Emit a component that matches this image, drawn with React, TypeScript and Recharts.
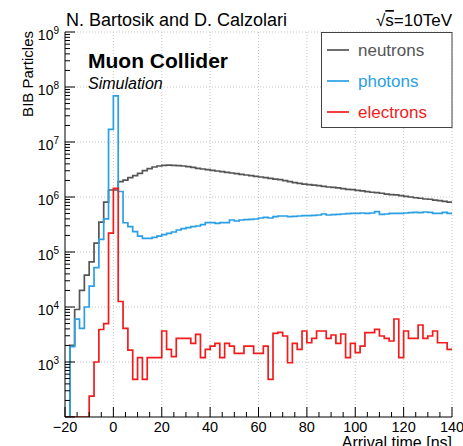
import React from 'react';
import { LineChart, Line, XAxis, YAxis, ReferenceLine } from 'recharts';

// Histogram binning (ns)
const BIN_START = -20;
const BIN_WIDTH = 2;

// Counts per 2 ns bin, from -20 to 140 ns (100 = empty bin, drawn on the axis)
const NEUTRONS = [
  100, 2000, 9000, 20000, 38000, 66000, 145000, 350000, 810000, 1340000,
  1340000, 1900000, 2030000, 2250000, 2440000, 2690000, 3010000, 3270000, 3510000, 3660000,
  3770000, 3800000, 3770000, 3710000, 3660000, 3560000, 3460000, 3320000, 3230000, 3140000,
  3050000, 2970000, 2890000, 2810000, 2730000, 2660000, 2580000, 2510000, 2440000, 2380000,
  2310000, 2250000, 2180000, 2120000, 2070000, 1980000, 1900000, 1820000, 1770000, 1720000,
  1680000, 1650000, 1610000, 1560000, 1520000, 1500000, 1460000, 1420000, 1380000, 1360000,
  1320000, 1290000, 1250000, 1220000, 1200000, 1170000, 1130000, 1100000, 1090000, 1060000,
  1030000, 1000000, 970000, 950000, 920000, 910000, 880000, 860000, 830000, 810000,
];

const PHOTONS = [
  100, 1900, 6000, 4100, 10000, 24000, 52000, 170000, 400000, 17000000,
  69000000, 1260000, 340000, 290000, 234000, 195000, 177000, 177000, 185000, 195000,
  207000, 218000, 231000, 251000, 266000, 277000, 289000, 297000, 314000, 341000,
  341000, 332000, 341000, 341000, 382000, 366000, 382000, 387000, 393000, 398000,
  415000, 427000, 415000, 439000, 451000, 451000, 439000, 445000, 451000, 458000,
  458000, 465000, 471000, 491000, 471000, 478000, 484000, 491000, 498000, 505000,
  505000, 512000, 505000, 512000, 541000, 484000, 491000, 505000, 505000, 505000,
  512000, 519000, 526000, 519000, 534000, 526000, 505000, 505000, 526000, 505000,
];

const ELECTRONS = [
  100, 100, 100, 100, 100, 240, 1000, 3900, 5000, 220000,
  1440000, 12600, 4100, 1650, 485, 1200, 485, 1200, 1200, 1200,
  3660, 1700, 1250, 2690, 2690, 2690, 2190, 3190, 1200, 1700,
  1950, 2190, 1200, 2190, 1950, 1440, 1440, 1950, 1950, 1440,
  1440, 1950, 485, 3320, 3460, 2970, 970, 2180, 1700, 3660,
  2240, 2690, 3660, 3660, 2690, 3100, 2180, 3230, 1200, 2180,
  1480, 1950, 3410, 3410, 3920, 2970, 2690, 2410, 6050, 1200,
  3660, 2690, 2690, 4710, 2690, 2970, 3660, 2240, 2240, 1700,
];

const SERIES = [
  { key: 'n', name: 'neutrons', color: '#555555' },
  { key: 'p', name: 'photons', color: '#2b9fe6' },
  { key: 'e', name: 'electrons', color: '#f21c1c' },
];

const X_TICKS = [
  -20, -15, -10, -5, 0, 5, 10, 15, 20, 25, 30, 35, 40, 45, 50, 55, 60, 65, 70,
  75, 80, 85, 90, 95, 100, 105, 110, 115, 120, 125, 130, 135, 140,
];
const X_GRID = [0, 20, 40, 60, 80, 100, 120, 140];
const Y_DECADES = [2, 3, 4, 5, 6, 7, 8];
const Y_GRID = [1e3, 1e4, 1e5, 1e6, 1e7, 1e8, 1e9];

// log axis ticks: 1..9 x 10^d, plus the top decade
const Y_TICKS = [
  ...Y_DECADES.flatMap(d => [1, 2, 3, 4, 5, 6, 7, 8, 9].map(m => m * Math.pow(10, d))),
  1e9,
];

const FONT = '"Liberation Sans", Arial, Helvetica, sans-serif';

const chartData = NEUTRONS.map((n, i) => ({
  t: BIN_START + i * BIN_WIDTH,
  n,
  p: PHOTONS[i],
  e: ELECTRONS[i],
}));
// closing edge so the last bin gets its horizontal step
chartData.push({
  t: BIN_START + NEUTRONS.length * BIN_WIDTH,
  n: NEUTRONS[NEUTRONS.length - 1],
  p: PHOTONS[PHOTONS.length - 1],
  e: ELECTRONS[ELECTRONS.length - 1],
});

// ROOT style ticks: drawn inwards, minor ones shorter
const XTick = (props: any) => {
  const { x, y, payload } = props;
  const v = payload.value as number;
  const major = v % 20 === 0;
  return (
    <g>
      <line x1={x} x2={x} y1={y} y2={y - (major ? 10 : 5)} stroke="#000" strokeWidth={1} />
      {major && (
        <text x={x} y={y + 15} textAnchor="middle" fontSize={14.5} fontFamily={FONT} fill="#000">
          {v < 0 ? `\u2212${-v}` : `${v}`}
        </text>
      )}
    </g>
  );
};

const YTick = (props: any) => {
  const { x, y, payload } = props;
  const v = payload.value as number;
  const exp = Math.log10(v);
  const major = Math.abs(exp - Math.round(exp)) < 1e-6;
  return (
    <g>
      <line x1={x} x2={x + (major ? 10 : 5)} y1={y} y2={y} stroke="#000" strokeWidth={1} />
      {major && Math.round(exp) >= 3 && (
        <text x={x - 6} y={y + 8} textAnchor="end" fontSize={14} fontFamily={FONT} fill="#000">
          <tspan>10</tspan>
          <tspan dy={-6} fontSize={10}>{Math.round(exp)}</tspan>
        </text>
      )}
    </g>
  );
};

const LEGEND_ROWS = [50, 81, 112];

export default function App() {
  return (
    <div style={{ position: 'absolute', left: 0, top: 0, width: 463, height: 446, overflow: 'hidden', background: '#fff' }}>
      <LineChart
        width={463}
        height={446}
        data={chartData}
        margin={{ top: 32, right: 11, bottom: 0, left: 0 }}
      >
        {X_GRID.map(v => (
          <ReferenceLine key={`gx${v}`} x={v} stroke="#c4c4c4" strokeDasharray="1 2" ifOverflow="visible" />
        ))}
        {Y_GRID.map(v => (
          <ReferenceLine key={`gy${v}`} y={v} stroke="#c4c4c4" strokeDasharray="1 2" ifOverflow="visible" />
        ))}
        <XAxis
          dataKey="t"
          type="number"
          domain={[-20, 140]}
          ticks={X_TICKS}
          interval={0}
          height={29}
          tickSize={0}
          tickMargin={0}
          tickLine={false}
          axisLine={{ stroke: '#000', strokeWidth: 1 }}
          tick={XTick}
          allowDataOverflow
        />
        <YAxis
          type="number"
          scale="log"
          domain={[100, 1e9]}
          ticks={Y_TICKS}
          interval={0}
          width={65}
          tickSize={0}
          tickMargin={0}
          tickLine={false}
          axisLine={{ stroke: '#000', strokeWidth: 1 }}
          tick={YTick}
          allowDataOverflow
        />
        {SERIES.map(s => (
          <Line
            key={s.key}
            dataKey={s.key}
            name={s.name}
            type="stepAfter"
            stroke={s.color}
            strokeWidth={1.7}
            dot={false}
            activeDot={false}
            isAnimationActive={false}
          />
        ))}
      </LineChart>

      <svg
        width={463}
        height={446}
        style={{ position: 'absolute', left: 0, top: 0, pointerEvents: 'none' }}
        fontFamily={FONT}
      >
        <text x={66} y={26} fontSize={18} fill="#000">N. Bartosik and D. Calzolari</text>
        <text x={452} y={26} fontSize={17} fill="#000" textAnchor="end">
          √<tspan textDecoration="overline">s</tspan>=10TeV
        </text>
        <text x={88} y={68} fontSize={21} fontWeight="bold" fill="#000">Muon Collider</text>
        <text x={88} y={89} fontSize={16} fontStyle="italic" fill="#000">Simulation</text>
        <text transform="translate(33,31) rotate(-90)" textAnchor="end" fontSize={15} fill="#000">
          BIB Particles
        </text>
        <text x={452} y={448} fontSize={16} textAnchor="end" fill="#000">Arrival time [ns]</text>

        <rect x={321.5} y={32.5} width={130.5} height={95} fill="#fff" stroke="#444" strokeWidth={1} />
        {SERIES.map((s, i) => (
          <g key={s.key}>
            <line x1={327} x2={349} y1={LEGEND_ROWS[i]} y2={LEGEND_ROWS[i]} stroke={s.color} strokeWidth={1.7} />
            <text x={358} y={LEGEND_ROWS[i] + 6} fontSize={17} fill={s.color}>{s.name}</text>
          </g>
        ))}
      </svg>
    </div>
  );
}
